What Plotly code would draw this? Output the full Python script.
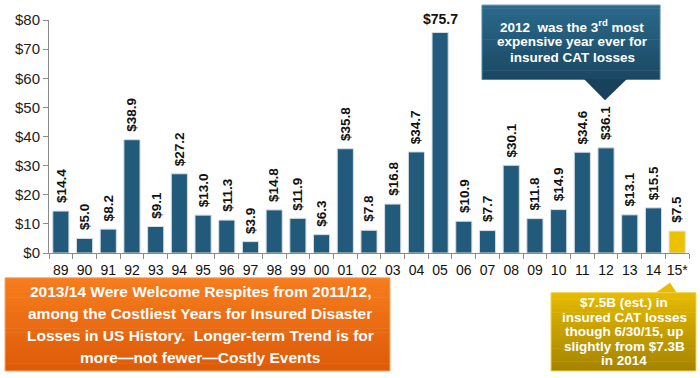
import plotly.graph_objects as go

# ---------------- data ----------------
years = ["89", "90", "91", "92", "93", "94", "95", "96", "97", "98", "99", "00", "01",
         "02", "03", "04", "05", "06", "07", "08", "09", "10", "11", "12", "13", "14", "15*"]
losses = [14.4, 5.0, 8.2, 38.9, 9.1, 27.2, 13.0, 11.3, 3.9, 14.8, 11.9, 6.3, 35.8,
          7.8, 16.8, 34.7, 75.7, 10.9, 7.7, 30.1, 11.8, 14.9, 34.6, 36.1, 13.1, 15.5, 7.5]
y_ticks = [0, 10, 20, 30, 40, 50, 60, 70, 80]
y_tick_labels = ["$0", "$10", "$20", "$30", "$40", "$50", "$60", "$70", "$80"]

callout_lines = ["2012\u00a0 was the 3<sup>rd</sup> most", "expensive year ever for", "insured CAT losses"]
orange_lines = ["2013/14 Were Welcome Respites from 2011/12,",
                "among the Costliest Years for Insured Disaster",
                "Losses in US History.\u00a0 Longer-term Trend is for",
                "more\u2014not fewer\u2014Costly Events"]
gold_lines = ["$7.5B (est.) in", "insured CAT losses", "though 6/30/15, up",
              "slightly from $7.3B", "in 2014"]

BLUE = "#225a7b"
GOLD = "#ecc100"
FONT = "Arial, Liberation Sans, sans-serif"

# ---------------- layout geometry ----------------
W, H = 700, 378
L, R, T, B = 49, 11, 18, 125
PW, PH = W - L - R, H - T - B


def px(x):
    return (x - L) / PW


def py(y):
    return (H - B - y) / PH


def hex2rgb(h):
    h = h.lstrip("#")
    return tuple(int(h[i:i + 2], 16) for i in (0, 2, 4))


def mix(c1, c2, t):
    a, b = hex2rgb(c1), hex2rgb(c2)
    return "rgb(%d,%d,%d)" % tuple(round(a[i] + (b[i] - a[i]) * t) for i in range(3))


shapes = []


def grad_rect(x0, y0, x1, y1, ctop, cbot, n=24, border=None):
    h = (y1 - y0) / n
    for i in range(n):
        ya = y0 + i * h
        yb = y0 + (i + 1) * h + 0.6
        shapes.append(dict(type="rect", xref="paper", yref="paper",
                           x0=px(x0), x1=px(x1), y0=py(min(yb, y1)), y1=py(ya),
                           fillcolor=mix(ctop, cbot, (i + 0.5) / n), line=dict(width=0),
                           layer="above"))
    if border:
        shapes.append(dict(type="rect", xref="paper", yref="paper",
                           x0=px(x0), x1=px(x1), y0=py(y1), y1=py(y0),
                           fillcolor="rgba(0,0,0,0)", line=dict(color=border, width=1),
                           layer="above"))


def tri(pts, color):
    path = "M " + " L ".join("%f,%f" % (px(a), py(b)) for a, b in pts) + " Z"
    shapes.append(dict(type="path", xref="paper", yref="paper", path=path,
                       fillcolor=color, line=dict(width=0), layer="above"))


# callout over 2012
grad_rect(482, 3, 660, 78, "#2c6a8b", "#1a4762", border="#4a86a6")
tri([(584, 77.5), (605, 99), (627, 77.5)], "#18425b")
# orange box
grad_rect(5, 278, 390, 372, "#f77d1e", "#dd5a08", border="#f9a86a")
# gold box
tri([(655, 293.5), (670, 283), (677, 293.5)], "#e6bb00")
grad_rect(551, 293, 696, 372, "#e6bb00", "#a48300", border="#f1d34a")

# ---------------- figure ----------------
idx = list(range(len(years)))
colors = [BLUE] * (len(years) - 1) + [GOLD]
fig = go.Figure(go.Bar(
    x=idx, y=losses, marker=dict(color=colors, line=dict(color="#d6dde3", width=1)),
    hoverinfo="skip"))

annotations = []
for i, v in zip(idx, losses):
    if v > 70:
        annotations.append(dict(x=i, y=v, xref="x", yref="y", text="<b>$%.1f</b>" % v,
                                showarrow=False, yanchor="bottom", xanchor="center", yshift=4,
                                font=dict(family=FONT, size=14, color="#111111")))
    else:
        annotations.append(dict(x=i, y=v, xref="x", yref="y", text="<b>$%.1f</b>" % v,
                                textangle=-90, showarrow=False, yanchor="bottom",
                                xanchor="center", yshift=6,
                                font=dict(family=FONT, size=13.5, color="#111111")))

for t, yc in zip(callout_lines, [24, 40, 55.5]):
    annotations.append(dict(x=px(572), y=py(yc), xref="paper", yref="paper", text="<b>%s</b>" % t,
                            showarrow=False, xanchor="center", yanchor="middle",
                            font=dict(family=FONT, size=13.5, color="white")))
for t, yc in zip(orange_lines, [292, 314, 336, 358]):
    annotations.append(dict(x=px(200), y=py(yc), xref="paper", yref="paper", text="<b>%s</b>" % t,
                            showarrow=False, xanchor="center", yanchor="middle",
                            font=dict(family=FONT, size=15.5, color="white")))
for t, yc in zip(gold_lines, [303, 318, 332.5, 347, 361]):
    annotations.append(dict(x=px(624), y=py(yc), xref="paper", yref="paper", text="<b>%s</b>" % t,
                            showarrow=False, xanchor="center", yanchor="middle",
                            font=dict(family=FONT, size=13.5, color="white")))

fig.update_layout(
    width=W, height=H, margin=dict(l=L, r=R, t=T, b=B, pad=0),
    paper_bgcolor="white", plot_bgcolor="white", showlegend=False,
    bargap=0.32,
    font=dict(family=FONT, color="#111111"),
    xaxis=dict(range=[-0.5, len(years) - 0.5], showgrid=False, zeroline=False,
               tickmode="array", tickvals=idx, ticktext=years, tickangle=0,
               ticklabelstandoff=4,
               showline=True, linecolor="#8a8a8a", linewidth=1,
               ticks="", tickfont=dict(family=FONT, size=14, color="#111111"), fixedrange=True,
               minor=dict(tickmode="array", tickvals=[i - 0.5 for i in idx] + [len(years) - 0.5],
                          ticks="outside", ticklen=5, tickcolor="#8a8a8a", showgrid=False)),
    yaxis=dict(range=[0, 80], tickvals=y_ticks, ticktext=y_tick_labels, showgrid=False,
               showline=True, linecolor="#8a8a8a", linewidth=1, zeroline=False,
               ticks="outside", ticklen=5, tickcolor="#8a8a8a",
               tickfont=dict(family=FONT, size=15, color="#222222"), fixedrange=True),
    shapes=shapes, annotations=annotations,
)

fig.write_html("out.html", config={"displayModeBar": False},
               post_script="document.body.style.margin='0';document.body.style.overflow='hidden';")
